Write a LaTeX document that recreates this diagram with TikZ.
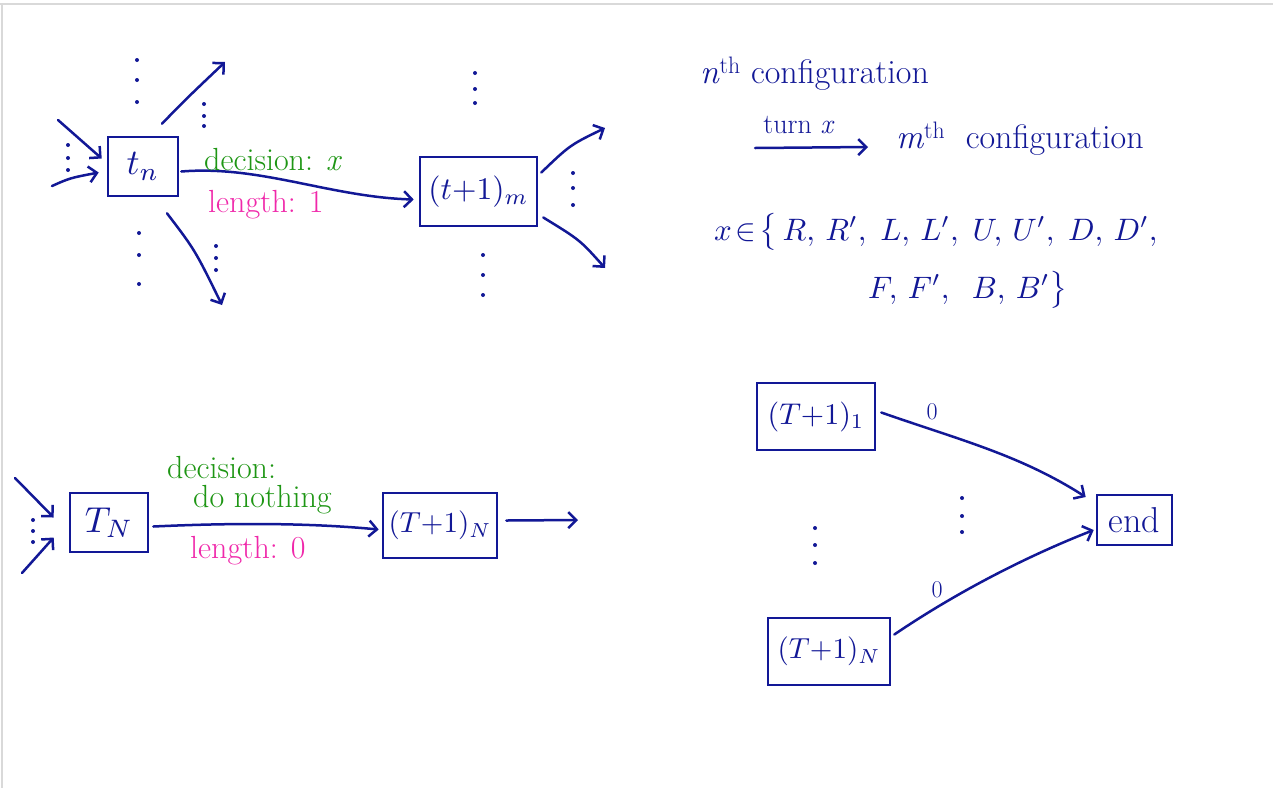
\documentclass[tikz,border=0pt]{standalone}
\usepackage{fontspec}
\usepackage{graphicx}
\usetikzlibrary{arrows.meta}
\definecolor{ink}{RGB}{18,24,150}
\definecolor{grn}{RGB}{30,150,20}
\definecolor{mag}{RGB}{240,40,170}
\newcommand{\dotstack}[4]{\fill[ink] (#1,#2) circle (2pt) (#1,#3) circle (2pt) (#1,#4) circle (2pt);}
\newcommand{\zm}[2]{\scalebox{#1}{\normalsize$#2$}}
\begin{document}
\begin{tikzpicture}[x=1pt,y=-1pt,
  box/.style={draw=ink, line width=2.6pt, inner sep=0pt, text=ink},
  conn/.style={draw=ink, line width=2.5pt, line cap=round, -{Straight Barb[length=8pt,width=16pt,line width=2.5pt]}},
  glabel/.style={text=grn, font=\fontsize{32}{36}\selectfont, inner sep=0pt},
  mlabel/.style={text=mag, font=\fontsize{32}{36}\selectfont, inner sep=0pt},
  blabel/.style={text=ink, font=\fontsize{34}{38}\selectfont, inner sep=0pt}]
\useasboundingbox (0,0) rectangle (1273,788);
\fill[white] (0,0) rectangle (1273,788);
\draw[gray!30, line width=1.2pt] (0,4) -- (1273,4);
\draw[gray!30, line width=1.2pt] (2,4) -- (2,788);

% ---------- top-left: t_n -> (t+1)_m ----------
\node[box, minimum width=70pt, minimum height=59pt] (tn) at (143,166.5) {\zm{3.6}{t_n}};
\node[box, minimum width=117pt, minimum height=69pt] (tm) at (478.5,191.5) {\zm{3.15}{(t{+}1)_m}};
\coordinate (in1) at (58,120);
\coordinate (in2) at (52,186);
\coordinate (up1) at (225,62);
\coordinate (dn1) at (222,305);
\coordinate (up2) at (605,128);
\coordinate (dn2) at (605,268);
\draw[conn] (in1) -- ([shift={(-5,-8)}]tn.west);
\draw[conn] (in2) .. controls (70,178) .. ([shift={(-8,6)}]tn.west);
\draw[conn] ([shift={(19,-12)}]tn.north) .. controls (185,100) .. (up1);
\draw[conn] ([shift={(24,16)}]tn.south) .. controls (195,250) .. (dn1);
\draw[conn] ([shift={(2,5)}]tn.east) .. controls (260,165) and (330,197) .. ([shift={(-5,8)}]tm.west);
\draw[conn] ([shift={(3,-19)}]tm.east) .. controls (570,145) .. (up2);
\draw[conn] ([shift={(5,26)}]tm.east) .. controls (580,240) .. (dn2);
\node[glabel, anchor=base west] (dec1) at (204,170) {decision: \textit{x}};
\node[mlabel, anchor=base west] (len1) at (208,212) {length: 1};
\dotstack{137}{60}{80}{102}
\dotstack{68}{145}{158}{170}
\dotstack{204}{104}{116}{126}
\dotstack{139}{233}{255}{284}
\dotstack{216}{246}{258}{270}
\dotstack{475}{73}{89}{103}
\dotstack{483}{255}{275}{295}
\dotstack{573}{173}{188}{205}

% ---------- top-right: text ----------
\node[blabel, anchor=base west] (nth) at (700,83) {\textit{n}\textsuperscript{th} configuration};
\coordinate (ta) at (755,148);
\coordinate (tb) at (868,147);
\draw[conn] (ta) -- (tb);
\node[text=ink, font=\fontsize{28}{32}\selectfont, inner sep=0pt, anchor=base] (turn) at (799,133) {turn \textit{x}};
\node[blabel, anchor=base west] (mth) at (896,148) {\textit{m}\textsuperscript{th}\ \ configuration};
\node[text=ink, anchor=base west, inner sep=0pt, align=left, font=\fontsize{10}{58}\selectfont] (set) at (714,298)
  {\zm{3.1}{x\!\in\!\big\{\,R,\,R',\;L,\,L',\;U,\,U',\;D,\,D',}\\
   \hspace*{154pt}\zm{3.1}{F,\,F',\;\;B,\,B'\big\}}};

% ---------- bottom-left: T_N -> (T+1)_N ----------
\node[box, minimum width=78pt, minimum height=59pt] (TN) at (109,522.5) {\zm{3.6}{T_N}};
\node[box, minimum width=114pt, minimum height=65pt] (TN1) at (440,525.5) {\zm{2.9}{(T{+}1)_N}};
\coordinate (bin1) at (15,478);
\coordinate (bin2) at (22,573);
\coordinate (bout) at (578,520);
\draw[conn] (bin1) -- ([shift={(-15,-5)}]TN.west);
\draw[conn] (bin2) -- ([shift={(-15,15)}]TN.west);
\draw[conn] ([shift={(4,4)}]TN.east) .. controls (250,522) and (320,524) .. ([shift={(-3,4)}]TN1.west);
\draw[conn] ([shift={(8,-5)}]TN1.east) -- (bout);
\dotstack{33}{520}{531}{542}
\node[glabel, anchor=base west] (dec2) at (167,478) {decision:};
\node[glabel, anchor=base west] (dec3) at (193,507) {do nothing};
\node[mlabel, anchor=base west] (len2) at (190,558) {length: 0};

% ---------- bottom-right: (T+1)_i -> end ----------
\node[box, minimum width=118pt, minimum height=67pt] (A1) at (816,416.5) {\zm{3.0}{(T{+}1)_1}};
\node[box, minimum width=122pt, minimum height=67pt] (AN) at (829,651.5) {\zm{2.9}{(T{+}1)_N}};
\node[box, minimum width=75pt, minimum height=50pt, font=\fontsize{36}{40}\selectfont] (end) at (1134.5,520) {end};
\draw[conn] ([shift={(5,-4)}]A1.east) .. controls (960,440) and (1020,455) .. ([shift={(-10,-23)}]end.west);
\draw[conn] ([shift={(3,-17)}]AN.east) .. controls (960,590) and (1030,555) .. ([shift={(-2,10)}]end.west);
\node[text=ink, font=\fontsize{24}{28}\selectfont, inner sep=0pt] (z1) at (932,412) {0};
\node[text=ink, font=\fontsize{24}{28}\selectfont, inner sep=0pt] (z2) at (937,590) {0};
\dotstack{815}{528}{545}{563}
\dotstack{962}{498}{516}{532}
\end{tikzpicture}
\end{document}
